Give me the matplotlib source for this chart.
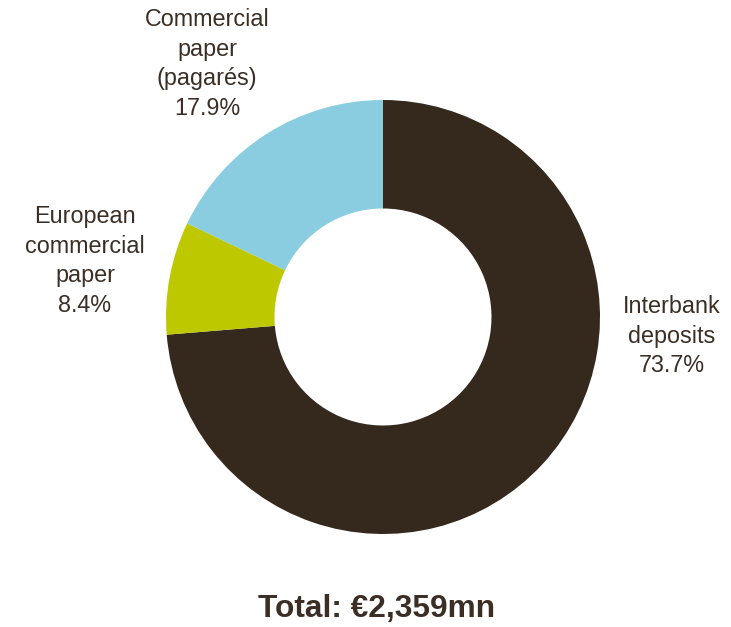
import matplotlib
matplotlib.use("Agg")
import matplotlib.pyplot as plt

plt.rcParams['font.family'] = ['Liberation Sans', 'DejaVu Sans']

# funding mix, shares in percent
labels = ['Interbank\ndeposits', 'European\ncommercial\npaper', 'Commercial\npaper\n(pagarés)']
shares = [73.7, 8.4, 17.9]
colors = ['#35281d', '#bdc800', '#8acde0']
total_text = 'Total: €2,359mn'

text_col = '#3a2e25'
W, H = 731, 627

fig = plt.figure(figsize=(W / 100, H / 100), dpi=100)
fig.patch.set_facecolor('white')

# donut centre and radius in pixels
cx, cy, R = 383, 317, 217
ax = fig.add_axes([(cx - R) / W, (H - cy - R) / H, 2 * R / W, 2 * R / H])
ax.pie(shares, colors=colors, startangle=90, counterclock=False,
       radius=1, wedgeprops=dict(width=0.5, linewidth=0))
ax.set_xlim(-1, 1)
ax.set_ylim(-1, 1)
ax.set_aspect('equal')
ax.axis('off')

# label positions (pixels)
label_pos = [(672, 336), (85, 261), (207, 64)]
for lab, val, (px, py) in zip(labels, shares, label_pos):
    fig.text(px / W, 1 - py / H, '%s\n%.1f%%' % (lab, val), ha='center', va='center',
             fontsize=16.8, color=text_col, linespacing=1.36)

fig.text(377 / W, 1 - 609 / H, total_text, ha='center', va='center',
         fontsize=22.8, fontweight='bold', color=text_col)

fig.savefig('out.png', dpi=100)
